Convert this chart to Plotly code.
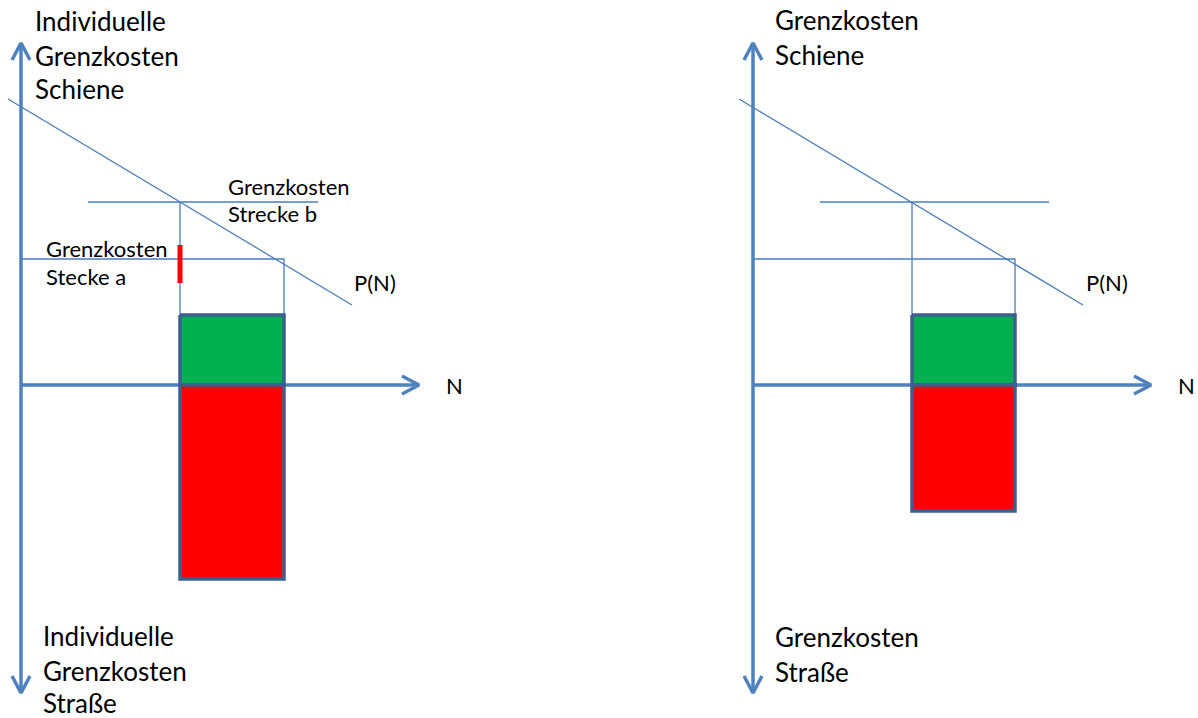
import plotly.graph_objects as go

# Diagram geometry (slide pixel coordinates), one entry per panel: [left, right]
axis_x = [21, 753]          # position of the vertical (cost) axis
axis_top = 43
axis_bottom = 693
axis_y = 385                # horizontal N axis
n_tip = [419, 1151]

demand_x = [[8, 352], [739, 1083]]   # P(N) line
demand_y = [99, 305]

cost_b_y = 202
cost_b_x = [[88, 318], [820, 1049]]
cost_a_y = 259

n_b = [180, 912]            # quantity where P(N) meets cost b
n_a = [284, 1015]           # quantity where P(N) meets cost a
box_top = 315
box_bottom = [579, 511]
red_mark_y = [245, 283]     # only left panel

# text labels
labels_top = [["Individuelle", "Grenzkosten", "Schiene"], ["Grenzkosten", "Schiene"]]
labels_top_y = [[21, 56, 89], [20, 55]]
labels_top_x = [33, 773]
labels_bottom = [["Individuelle", "Grenzkosten", "Straße"], ["Grenzkosten", "Straße"]]
labels_bottom_y = [[636, 671, 703], [637, 672]]
labels_bottom_x = [41, 773]
label_b = ["Grenzkosten", "Strecke b"]
label_b_y = [186, 213]
label_a = ["Grenzkosten", "Stecke a"]
label_a_y = [248, 276]
pn_x = [352, 1084]
n_x = [444, 1176]

AXIS = "#4f81bd"
THIN = "#4a7ebb"
EDGE = "#3d5f8f"
FONT = "Lato"

fig = go.Figure()

def line(xs, ys, color, width):
    fig.add_trace(go.Scatter(x=xs, y=ys, mode="lines",
                             line=dict(color=color, width=width),
                             hoverinfo="skip", showlegend=False))

for i in range(2):
    ax = axis_x[i]
    # thin construction lines
    line(demand_x[i], demand_y, THIN, 1.3)
    line(cost_b_x[i], [cost_b_y, cost_b_y], THIN, 1.3)
    line([ax, n_a[i], n_a[i]], [cost_a_y, cost_a_y, box_top], THIN, 1.3)
    line([n_b[i], n_b[i]], [cost_b_y, box_top], THIN, 1.3)

    # axes with open arrow heads
    line([ax, ax], [axis_top, axis_bottom], AXIS, 3.5)
    line([ax - 9, ax, ax + 9], [axis_top + 17, axis_top, axis_top + 17], AXIS, 3.5)
    line([ax - 9, ax, ax + 9], [axis_bottom - 17, axis_bottom, axis_bottom - 17], AXIS, 3.5)
    line([ax, n_tip[i]], [axis_y, axis_y], AXIS, 3.5)
    line([n_tip[i] - 17, n_tip[i], n_tip[i] - 17], [axis_y - 9, axis_y, axis_y + 9], AXIS, 3.5)

    # welfare boxes
    for y0, y1, col in [(box_top, axis_y, "#00b050"), (axis_y, box_bottom[i], "#ff0000")]:
        fig.add_trace(go.Scatter(
            x=[n_b[i], n_a[i], n_a[i], n_b[i], n_b[i]], y=[y0, y0, y1, y1, y0],
            mode="lines", fill="toself", fillcolor=col,
            line=dict(color=EDGE, width=3.5), hoverinfo="skip", showlegend=False))

# red marker on the left panel
line([n_b[0], n_b[0]], red_mark_y, "#ff0000", 5)

annotations = []

def text(x, y, s, size):
    annotations.append(dict(x=x, y=y, text=s, showarrow=False, xanchor="left",
                            yanchor="middle", font=dict(family=FONT, size=size, color="black")))

for i in range(2):
    for s, y in zip(labels_top[i], labels_top_y[i]):
        text(labels_top_x[i], y, s, 26)
    for s, y in zip(labels_bottom[i], labels_bottom_y[i]):
        text(labels_bottom_x[i], y, s, 26)
    text(pn_x[i], 282, "P(N)", 22)
    text(n_x[i], axis_y, "N", 22)

for s, y in zip(label_b, label_b_y):
    text(226, y, s, 22)
for s, y in zip(label_a, label_a_y):
    text(44, y, s, 22)

fig.update_layout(
    width=1198, height=718,
    margin=dict(l=0, r=0, t=0, b=0),
    plot_bgcolor="white", paper_bgcolor="white",
    xaxis=dict(range=[0, 1198], visible=False, fixedrange=True),
    yaxis=dict(range=[718, 0], visible=False, fixedrange=True),
    annotations=annotations,
    hovermode=False,
)

fig.write_html("out.html", config={"displayModeBar": False},
               post_script="document.body.style.margin='0';")
